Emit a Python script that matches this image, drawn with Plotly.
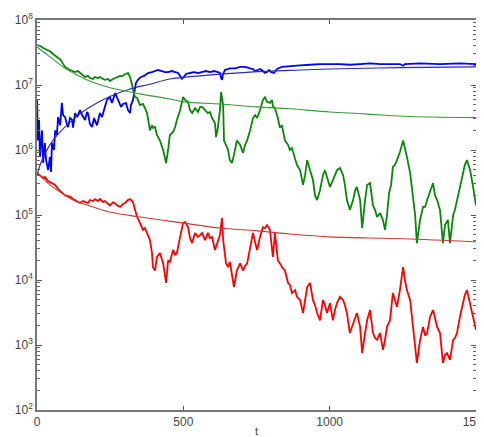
import plotly.graph_objects as go

# ---------------- data ----------------
t_blue = [0, 3, 7, 10, 17, 21, 27, 31, 38, 44, 48, 51, 58, 62, 68, 72, 79, 85, 89, 96,
          103, 106, 113, 120, 123, 130, 137, 147, 154, 164, 171, 174, 181, 188, 195, 198,
          205, 215, 222, 232, 239, 249, 256, 267, 273, 280, 287, 294, 304, 311, 318, 321,
          328, 335, 338, 345, 355, 366, 379, 393, 403, 413, 427, 437, 448, 461, 472, 482,
          489, 495, 502, 509, 523, 536, 550, 564, 577, 591, 605, 618, 625, 629, 632, 636,
          642, 659, 677, 694, 711, 728, 738, 745, 752, 762, 772, 779, 786, 793, 800, 810,
          817, 823, 837, 864, 899, 933, 967, 1035, 1069, 1104, 1138, 1172, 1240, 1251,
          1257, 1309, 1377, 1445, 1500]
blue_noisy = [5.9e6, 1.4e6, 2.9e6, 7.8e5, 2.0e6, 6.3e5, 1.28e6, 7.0e5, 4.9e5, 7.8e5,
              4.6e5, 1.28e6, 1.0e6, 2.0e6, 1.7e6, 3.2e6, 2.4e6, 5.3e6, 3.45e6, 3.2e6,
              2.4e6, 2.26e6, 3.1e6, 2.9e6, 2.2e6, 3.7e6, 3.2e6, 4.1e6, 3.45e6, 2.9e6,
              3.85e6, 3.7e6, 2.5e6, 2.26e6, 3.1e6, 2.9e6, 2.4e6, 3.7e6, 3.2e6, 4.6e6,
              5.9e6, 6.5e6, 5.3e6, 7.5e6, 6.3e6, 5.5e6, 4.6e6, 5.1e6, 5.3e6, 4.1e6,
              3.7e6, 4.9e6, 5.9e6, 9.0e6, 1.07e7, 1.2e7, 1.33e7, 1.38e7, 1.53e7, 1.58e7,
              1.64e7, 1.7e7, 1.64e7, 1.58e7, 1.58e7, 1.64e7, 1.58e7, 1.53e7, 1.38e7, 1.24e7,
              1.33e7, 1.48e7, 1.53e7, 1.58e7, 1.53e7, 1.58e7, 1.64e7, 1.58e7, 1.64e7, 1.58e7,
              1.53e7, 1.28e7, 1.2e7, 1.48e7, 1.7e7, 1.8e7, 1.8e7, 1.9e7, 1.9e7, 1.8e7,
              1.76e7, 1.64e7, 1.7e7, 1.76e7, 1.64e7, 1.53e7, 1.58e7, 1.7e7, 1.58e7, 1.53e7,
              1.7e7, 1.8e7, 1.9e7, 1.96e7, 2.0e7, 2.05e7, 2.1e7, 2.1e7, 2.05e7, 2.1e7,
              2.15e7, 2.1e7, 2.1e7, 1.98e7, 2.1e7, 2.15e7, 2.1e7, 2.15e7, 2.1e7]

t_green = [0, 10, 21, 27, 38, 44, 55, 62, 72, 79, 89, 96, 106, 113, 123, 130, 140, 147, 157,
           164, 174, 181, 191, 198, 208, 215, 226, 232, 243, 249, 260, 267, 277, 284, 294,
           301, 311, 318, 325, 328, 335, 342, 352, 362, 369, 376, 386, 393, 396, 403, 410,
           420, 431, 441, 448, 454, 465, 472, 478, 489, 499, 506, 516, 523, 530, 540, 550,
           557, 564, 574, 584, 591, 598, 608, 612, 618, 625, 629, 636, 639, 646, 653, 659,
           666, 673, 683, 694, 704, 711, 718, 728, 738, 745, 752, 762, 772, 779, 786, 796,
           803, 806, 813, 823, 830, 837, 847, 858, 864, 871, 882, 888, 899, 909, 916, 923,
           933, 943, 950, 957, 967, 977, 984, 991, 1001, 1011, 1018, 1025, 1035, 1046, 1052,
           1059, 1069, 1080, 1087, 1093, 1104, 1111, 1121, 1128, 1138, 1148, 1155, 1162,
           1172, 1182, 1189, 1196, 1203, 1210, 1216, 1223, 1230, 1240, 1251, 1257, 1264,
           1275, 1285, 1292, 1298, 1309, 1319, 1326, 1333, 1343, 1353, 1360, 1367, 1377,
           1387, 1394, 1404, 1411, 1422, 1428, 1435, 1445, 1456, 1462, 1469, 1480, 1490, 1500]
green_noisy = [4.1e7, 4.0e7, 3.7e7, 3.6e7, 3.45e7, 3.3e7, 3.0e7, 2.8e7, 2.6e7, 2.5e7,
               2.1e7, 1.9e7, 1.76e7, 1.7e7, 1.64e7, 1.58e7, 1.64e7, 1.53e7, 1.4e7, 1.33e7,
               1.38e7, 1.28e7, 1.24e7, 1.33e7, 1.28e7, 1.33e7, 1.24e7, 1.2e7, 1.24e7, 1.15e7,
               1.24e7, 1.28e7, 1.33e7, 1.38e7, 1.38e7, 1.48e7, 1.53e7, 1.33e7, 1.0e7, 8.4e6,
               6.5e6, 6.3e6, 4.9e6, 5.1e6, 4.4e6, 3.7e6, 2.0e6, 2.4e6, 2.2e6, 2.26e6,
               1.7e6, 1.4e6, 1.0e6, 6.3e5, 1.0e6, 1.7e6, 1.9e6, 2.26e6, 2.9e6, 4.1e6,
               6.5e6, 5.9e6, 5.5e6, 4.1e6, 3.7e6, 4.4e6, 3.85e6, 4.6e6, 4.6e6, 4.1e6,
               3.7e6, 3.85e6, 3.1e6, 2.6e6, 1.58e6, 2.2e6, 4.1e6, 7.8e6, 4.9e6, 1.4e6,
               1.2e6, 1.0e6, 7.0e5, 6.3e5, 8.4e5, 1.4e6, 1.2e6, 9.0e5, 1.2e6, 1.4e6,
               2.0e6, 3.1e6, 3.45e6, 3.1e6, 4.1e6, 5.9e6, 6.5e6, 5.5e6, 5.3e6, 5.9e6,
               4.75e6, 4.4e6, 3.1e6, 2.2e6, 2.4e6, 1.4e6, 1.2e6, 1.0e6, 1.07e6, 7.5e5,
               5.9e5, 4.9e5, 2.9e5, 4.1e5, 7.0e5, 4.9e5, 3.45e5, 2.0e5, 1.7e5, 2.4e5,
               4.1e5, 4.9e5, 3.85e5, 2.7e5, 3.45e5, 4.1e5, 4.9e5, 5.3e5, 4.1e5, 2.9e5,
               1.7e5, 1.2e5, 1.7e5, 2.4e5, 2.7e5, 1.7e5, 6.3e4, 1.7e5, 2.9e5, 3.1e5,
               1.4e5, 1.2e5, 9.3e4, 1.07e5, 8.4e4, 5.9e4, 1.0e5, 2.2e5, 2.9e5, 5.5e5,
               5.9e5, 7.0e5, 9.3e5, 1.4e6, 1.0e6, 7.8e5, 4.4e5, 1.7e5, 1.0e5, 3.7e4,
               8.4e4, 1.33e5, 1.33e5, 1.7e5, 2.4e5, 3.1e5, 2.0e5, 1.7e5, 1.2e5, 3.7e4,
               7.0e4, 8.4e4, 3.7e4, 1.0e5, 1.2e5, 1.7e5, 2.7e5, 4.4e5, 5.9e5, 7.0e5,
               4.9e5, 2.7e5, 1.4e5]

t_red = [0, 10, 21, 27, 38, 44, 55, 62, 72, 79, 89, 96, 106, 113, 123, 130, 140, 147, 157,
         164, 174, 181, 191, 198, 208, 215, 226, 232, 243, 249, 260, 267, 277, 284, 294, 301,
         311, 318, 325, 328, 335, 342, 352, 362, 369, 376, 386, 393, 396, 403, 410, 420, 431,
         441, 448, 454, 465, 472, 478, 489, 499, 506, 516, 523, 530, 540, 550, 557, 564, 574,
         584, 591, 598, 608, 618, 625, 632, 636, 646, 653, 659, 666, 673, 683, 694, 704, 711,
         718, 728, 738, 745, 752, 762, 772, 779, 786, 796, 803, 806, 813, 823, 830, 837, 847,
         858, 864, 871, 882, 888, 899, 909, 916, 923, 933, 943, 950, 957, 967, 977, 984, 991,
         1001, 1011, 1018, 1025, 1035, 1046, 1052, 1059, 1069, 1080, 1087, 1093, 1104, 1111,
         1121, 1128, 1138, 1148, 1155, 1162, 1172, 1182, 1189, 1196, 1206, 1216, 1223, 1230,
         1240, 1251, 1257, 1264, 1275, 1285, 1292, 1298, 1309, 1319, 1326, 1333, 1343, 1353,
         1360, 1367, 1377, 1387, 1394, 1401, 1411, 1422, 1428, 1435, 1445, 1456, 1462, 1469,
         1480, 1490, 1500]
red_noisy = [4.4e5, 4.1e5, 3.7e5, 3.85e5, 3.3e5, 3.2e5, 3.0e5, 2.9e5, 2.5e5, 2.35e5,
             2.2e5, 2.0e5, 1.96e5, 1.9e5, 1.76e5, 1.7e5, 1.58e5, 1.53e5, 1.64e5, 1.58e5,
             1.53e5, 1.7e5, 1.64e5, 1.76e5, 1.64e5, 1.76e5, 1.58e5, 1.64e5, 1.48e5, 1.4e5,
             1.58e5, 1.48e5, 1.38e5, 1.33e5, 1.48e5, 1.53e5, 1.7e5, 1.76e5, 1.64e5, 1.58e5,
             1.2e5, 9.3e4, 7.5e4, 5.9e4, 6.3e4, 5.3e4, 4.1e4, 2.6e4, 1.58e4, 1.4e4,
             2.26e4, 2.6e4, 1.8e4, 9.0e3, 2.0e4, 1.9e4, 2.9e4, 2.4e4, 2.6e4, 4.6e4,
             7.5e4, 7.8e4, 6.5e4, 4.4e4, 3.7e4, 5.3e4, 4.6e4, 4.9e4, 5.3e4, 4.1e4,
             5.3e4, 4.4e4, 4.6e4, 2.9e4, 4.1e4, 4.9e4, 9.0e4, 4.1e4, 1.8e4, 1.58e4,
             1.9e4, 1.28e4, 7.8e3, 1.4e4, 1.8e4, 1.4e4, 1.64e4, 1.8e4, 3.2e4, 5.3e4,
             3.85e4, 2.9e4, 4.6e4, 6.5e4, 6.3e4, 7.0e4, 5.9e4, 3.45e4, 2.26e4, 5.3e4,
             2.0e4, 1.8e4, 1.58e4, 1.4e4, 9.0e3, 8.4e3, 6.3e3, 7.0e3, 5.5e3, 4.9e3,
             3.1e3, 4.9e3, 7.8e3, 9.0e3, 4.9e3, 4.1e3, 3.1e3, 2.4e3, 4.9e3, 4.1e3,
             3.1e3, 4.4e3, 2.4e3, 3.45e3, 4.4e3, 5.5e3, 4.9e3, 4.1e3, 3.1e3, 1.53e3,
             2.2e3, 2.6e3, 3.1e3, 1.9e3, 7.5e2, 1.53e3, 2.4e3, 3.45e3, 1.53e3, 1.28e3,
             1.2e3, 1.53e3, 8.4e2, 1.2e3, 1.9e3, 2.4e3, 6.3e3, 4.9e3, 3.85e3, 7.0e3,
             1.58e4, 1.0e4, 7.0e3, 4.9e3, 1.9e3, 1.0e3, 5.3e2, 1.2e3, 1.9e3, 1.4e3,
             1.53e3, 2.7e3, 3.45e3, 2.6e3, 1.9e3, 1.53e3, 5.3e2, 7.0e2, 7.5e2, 5.9e2,
             1.2e3, 1.28e3, 1.53e3, 2.7e3, 4.9e3, 5.9e3, 7.0e3, 4.4e3, 2.7e3, 1.7e3]

t_blue_mean = [0, 17, 44, 79, 106, 147, 181, 243, 318, 386, 454, 557, 728, 899, 1001, 1240, 1500]
blue_mean = [4.1e5, 7.0e5, 1.2e6, 1.9e6, 2.5e6, 3.6e6, 4.6e6, 6.5e6, 8.7e6, 1.03e7,
             1.24e7, 1.38e7, 1.58e7, 1.7e7, 1.76e7, 1.85e7, 1.9e7]

t_green_mean = [0, 27, 62, 96, 130, 164, 198, 253, 352, 454, 502, 625, 752, 864, 1001,
                1121, 1251, 1500]
green_mean = [3.85e7, 3.1e7, 2.35e7, 1.8e7, 1.48e7, 1.24e7, 1.07e7, 9.0e6, 7.3e6, 6.1e6,
              5.5e6, 5.1e6, 4.6e6, 4.3e6, 3.85e6, 3.6e6, 3.3e6, 3.15e6]

t_red_mean = [0, 44, 79, 113, 147, 181, 253, 352, 502, 625, 752, 864, 1001, 1251, 1500]
red_mean = [4.6e5, 2.9e5, 2.26e5, 1.8e5, 1.53e5, 1.38e5, 1.1e5, 9.3e4, 7.5e4, 6.3e4,
            5.7e4, 5.1e4, 4.6e4, 4.3e4, 3.85e4]

x_ticks = [0, 500, 1000, 1500]
y_exponents = [2, 3, 4, 5, 6, 7, 8]
x_label = "t"

# ---------------- figure ----------------
fig = go.Figure()

noisy = [(t_blue, blue_noisy, "#0000ff"),
         (t_green, green_noisy, "#0a860a"),
         (t_red, red_noisy, "#ff0000")]
for tt, yy, col in noisy:
    fig.add_trace(go.Scatter(x=tt, y=yy, mode="lines",
                             line=dict(color=col, width=1.8), showlegend=False))

means = [(t_blue_mean, blue_mean, "#2a2ab8"),
         (t_green_mean, green_mean, "#3a9a3a"),
         (t_red_mean, red_mean, "#c83c3c")]
for tt, yy, col in means:
    fig.add_trace(go.Scatter(x=tt, y=yy, mode="lines", line_shape="spline",
                             line=dict(color=col, width=1.1), showlegend=False))

major_vals = [10 ** e for e in y_exponents]
major_text = ["10<sup>%d</sup>" % e for e in y_exponents]
minor_vals = [m * 10 ** e for e in y_exponents[:-1] for m in range(2, 10)]

axis_font = dict(family="Liberation Sans, Arial, sans-serif", size=12, color="#444444")

# the page body adds an 8px offset, so the figure is sized to fill the window
fig.update_layout(
    width=476, height=429,
    margin=dict(l=29, r=8, t=12, b=27),
    paper_bgcolor="white", plot_bgcolor="white",
    font=axis_font,
    xaxis=dict(range=[0, 1500], tickvals=x_ticks, ticktext=[str(v) for v in x_ticks],
               ticks="inside", ticklen=4, tickcolor="#555555", ticklabeloverflow="allow",
               showline=True, linecolor="#777777", linewidth=1.5, mirror="ticks",
               showgrid=False, zeroline=False, automargin=False,
               title=dict(text=x_label, standoff=0, font=dict(size=11, color="#444444"))),
    yaxis=dict(type="log", range=[2, 8], tickvals=major_vals, ticktext=major_text,
               ticks="inside", ticklen=5, tickcolor="#555555",
               minor=dict(tickvals=minor_vals, ticks="inside", ticklen=3,
                          tickcolor="#666666", showgrid=False),
               showline=True, linecolor="#777777", linewidth=1.5, mirror="ticks",
               showgrid=False, zeroline=False, automargin=False),
)

fig.write_html("out.html")
